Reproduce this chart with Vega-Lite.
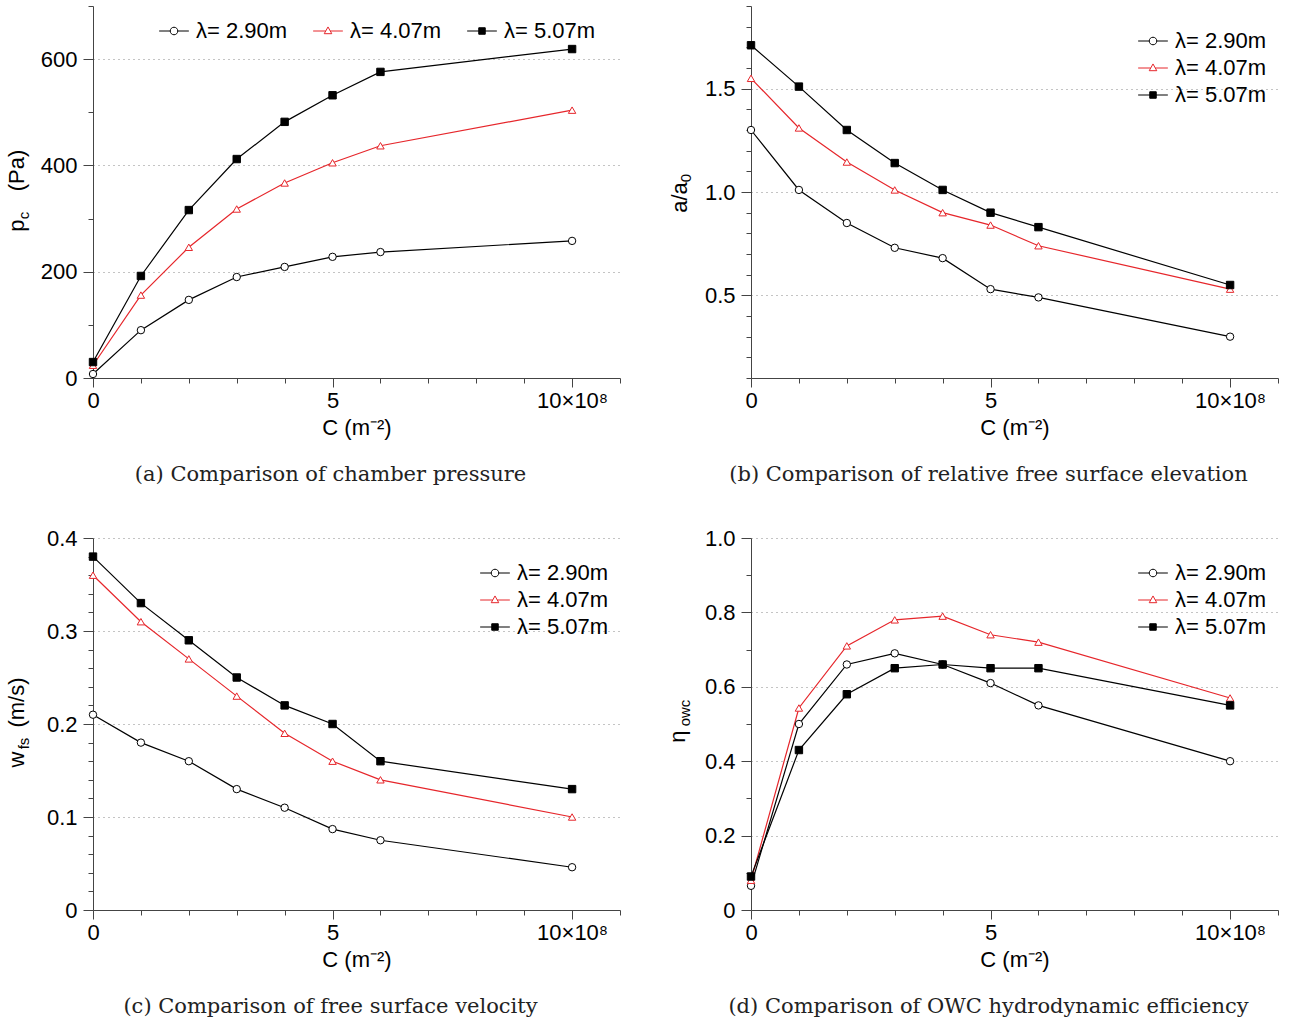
{
  "$schema": "https://vega.github.io/schema/vega-lite/v6.json",
  "background": "white",
  "padding": {"left": 5, "top": 5, "right": 10, "bottom": 5},
  "columns": 2,
  "spacing": {"row": 160, "column": 131},
  "bounds": "flush",
  "datasets": {
    "a": [
      {"x": 0, "y": 7.5, "s": "λ= 2.90m"}, {"x": 1, "y": 90, "s": "λ= 2.90m"}, {"x": 2, "y": 147, "s": "λ= 2.90m"}, {"x": 3, "y": 190, "s": "λ= 2.90m"},
      {"x": 4, "y": 209, "s": "λ= 2.90m"}, {"x": 5, "y": 228, "s": "λ= 2.90m"}, {"x": 6, "y": 237, "s": "λ= 2.90m"}, {"x": 10, "y": 258, "s": "λ= 2.90m"},
      {"x": 0, "y": 24, "s": "λ= 4.07m"}, {"x": 1, "y": 156, "s": "λ= 4.07m"}, {"x": 2, "y": 246, "s": "λ= 4.07m"}, {"x": 3, "y": 318, "s": "λ= 4.07m"},
      {"x": 4, "y": 367, "s": "λ= 4.07m"}, {"x": 5, "y": 405, "s": "λ= 4.07m"}, {"x": 6, "y": 437, "s": "λ= 4.07m"}, {"x": 10, "y": 504, "s": "λ= 4.07m"},
      {"x": 0, "y": 30, "s": "λ= 5.07m"}, {"x": 1, "y": 192, "s": "λ= 5.07m"}, {"x": 2, "y": 316, "s": "λ= 5.07m"}, {"x": 3, "y": 412, "s": "λ= 5.07m"},
      {"x": 4, "y": 482, "s": "λ= 5.07m"}, {"x": 5, "y": 532, "s": "λ= 5.07m"}, {"x": 6, "y": 576, "s": "λ= 5.07m"}, {"x": 10, "y": 619, "s": "λ= 5.07m"}
    ],
    "b": [
      {"x": 0, "y": 1.30, "s": "λ= 2.90m"}, {"x": 1, "y": 1.01, "s": "λ= 2.90m"}, {"x": 2, "y": 0.85, "s": "λ= 2.90m"}, {"x": 3, "y": 0.73, "s": "λ= 2.90m"},
      {"x": 4, "y": 0.68, "s": "λ= 2.90m"}, {"x": 5, "y": 0.53, "s": "λ= 2.90m"}, {"x": 6, "y": 0.49, "s": "λ= 2.90m"}, {"x": 10, "y": 0.30, "s": "λ= 2.90m"},
      {"x": 0, "y": 1.55, "s": "λ= 4.07m"}, {"x": 1, "y": 1.31, "s": "λ= 4.07m"}, {"x": 2, "y": 1.145, "s": "λ= 4.07m"}, {"x": 3, "y": 1.01, "s": "λ= 4.07m"},
      {"x": 4, "y": 0.90, "s": "λ= 4.07m"}, {"x": 5, "y": 0.84, "s": "λ= 4.07m"}, {"x": 6, "y": 0.74, "s": "λ= 4.07m"}, {"x": 10, "y": 0.53, "s": "λ= 4.07m"},
      {"x": 0, "y": 1.71, "s": "λ= 5.07m"}, {"x": 1, "y": 1.51, "s": "λ= 5.07m"}, {"x": 2, "y": 1.30, "s": "λ= 5.07m"}, {"x": 3, "y": 1.14, "s": "λ= 5.07m"},
      {"x": 4, "y": 1.01, "s": "λ= 5.07m"}, {"x": 5, "y": 0.90, "s": "λ= 5.07m"}, {"x": 6, "y": 0.83, "s": "λ= 5.07m"}, {"x": 10, "y": 0.55, "s": "λ= 5.07m"}
    ],
    "c": [
      {"x": 0, "y": 0.21, "s": "λ= 2.90m"}, {"x": 1, "y": 0.18, "s": "λ= 2.90m"}, {"x": 2, "y": 0.16, "s": "λ= 2.90m"}, {"x": 3, "y": 0.13, "s": "λ= 2.90m"},
      {"x": 4, "y": 0.11, "s": "λ= 2.90m"}, {"x": 5, "y": 0.087, "s": "λ= 2.90m"}, {"x": 6, "y": 0.075, "s": "λ= 2.90m"}, {"x": 10, "y": 0.046, "s": "λ= 2.90m"},
      {"x": 0, "y": 0.36, "s": "λ= 4.07m"}, {"x": 1, "y": 0.31, "s": "λ= 4.07m"}, {"x": 2, "y": 0.27, "s": "λ= 4.07m"}, {"x": 3, "y": 0.23, "s": "λ= 4.07m"},
      {"x": 4, "y": 0.19, "s": "λ= 4.07m"}, {"x": 5, "y": 0.16, "s": "λ= 4.07m"}, {"x": 6, "y": 0.14, "s": "λ= 4.07m"}, {"x": 10, "y": 0.10, "s": "λ= 4.07m"},
      {"x": 0, "y": 0.38, "s": "λ= 5.07m"}, {"x": 1, "y": 0.33, "s": "λ= 5.07m"}, {"x": 2, "y": 0.29, "s": "λ= 5.07m"}, {"x": 3, "y": 0.25, "s": "λ= 5.07m"},
      {"x": 4, "y": 0.22, "s": "λ= 5.07m"}, {"x": 5, "y": 0.20, "s": "λ= 5.07m"}, {"x": 6, "y": 0.16, "s": "λ= 5.07m"}, {"x": 10, "y": 0.13, "s": "λ= 5.07m"}
    ],
    "d": [
      {"x": 0, "y": 0.065, "s": "λ= 2.90m"}, {"x": 1, "y": 0.50, "s": "λ= 2.90m"}, {"x": 2, "y": 0.66, "s": "λ= 2.90m"}, {"x": 3, "y": 0.69, "s": "λ= 2.90m"},
      {"x": 4, "y": 0.66, "s": "λ= 2.90m"}, {"x": 5, "y": 0.61, "s": "λ= 2.90m"}, {"x": 6, "y": 0.55, "s": "λ= 2.90m"}, {"x": 10, "y": 0.40, "s": "λ= 2.90m"},
      {"x": 0, "y": 0.08, "s": "λ= 4.07m"}, {"x": 1, "y": 0.543, "s": "λ= 4.07m"}, {"x": 2, "y": 0.71, "s": "λ= 4.07m"}, {"x": 3, "y": 0.78, "s": "λ= 4.07m"},
      {"x": 4, "y": 0.79, "s": "λ= 4.07m"}, {"x": 5, "y": 0.74, "s": "λ= 4.07m"}, {"x": 6, "y": 0.72, "s": "λ= 4.07m"}, {"x": 10, "y": 0.57, "s": "λ= 4.07m"},
      {"x": 0, "y": 0.09, "s": "λ= 5.07m"}, {"x": 1, "y": 0.43, "s": "λ= 5.07m"}, {"x": 2, "y": 0.58, "s": "λ= 5.07m"}, {"x": 3, "y": 0.65, "s": "λ= 5.07m"},
      {"x": 4, "y": 0.66, "s": "λ= 5.07m"}, {"x": 5, "y": 0.65, "s": "λ= 5.07m"}, {"x": 6, "y": 0.65, "s": "λ= 5.07m"}, {"x": 10, "y": 0.55, "s": "λ= 5.07m"}
    ]
  },
  "concat": [
    {
      "width": 527, "height": 372,
      "data": {"name": "a"},
      "title": {"text": "(a) Comparison of chamber pressure", "orient": "bottom", "anchor": "middle", "dx": -26, "offset": 26},
      "layer": [
        {
          "mark": {"type": "line", "strokeWidth": 1.2},
          "encoding": {
            "x": {"field": "x", "type": "quantitative", "scale": {"domain": [0, 11], "nice": false},
                  "axis": {"orient": "bottom", "values": [0, 5, 10], "tickSize": 9, "labelPadding": 3, "grid": false, "labelExpr": "datum.value == 10 ? '10×10⁸' : datum.label", "title": "C  (m⁻²)", "titlePadding": 6}},
            "y": {"field": "y", "type": "quantitative", "scale": {"domain": [0, 700], "nice": false, "zero": false},
                  "axis": {"orient": "left", "values": [0, 200, 400, 600], "tickSize": 10, "labelPadding": 6, "grid": true, "title": "(Pa)", "titleX": -70, "titleY": 164, "titleAngle": 270, "titleAlign": "center", "titleBaseline": "alphabetic"}},
            "stroke": {"field": "s", "type": "nominal", "scale": {"domain": ["λ= 2.90m", "λ= 4.07m", "λ= 5.07m"], "range": ["black", "#e6262b", "black"]}, "legend": null}
          }
        },
        {
          "mark": {"type": "point", "filled": true, "size": 55, "strokeWidth": 1, "opacity": 1},
          "encoding": {
            "x": {"field": "x", "type": "quantitative", "axis": {"orient": "bottom", "values": [1, 2, 3, 4, 6, 7, 8, 9, 11], "tickSize": 5, "labels": false, "domain": false, "grid": false, "title": null}},
            "y": {"field": "y", "type": "quantitative", "axis": {"orient": "left", "values": [100, 300, 500, 700], "tickSize": 5, "labels": false, "domain": false, "grid": false, "title": "p", "titleX": -70, "titleY": 219, "titleAngle": 270, "titleAlign": "center", "titleBaseline": "alphabetic"}},
            "stroke": {"field": "s", "type": "nominal", "scale": {"domain": ["λ= 2.90m", "λ= 4.07m", "λ= 5.07m"], "range": ["black", "#e6262b", "black"]}, "legend": null},
            "fill": {"field": "s", "type": "nominal", "scale": {"domain": ["λ= 2.90m", "λ= 4.07m", "λ= 5.07m"], "range": ["white", "white", "black"]}, "legend": null},
            "shape": {"field": "s", "type": "nominal", "scale": {"domain": ["λ= 2.90m", "λ= 4.07m", "λ= 5.07m"], "range": ["circle", "triangle-up", "square"]}, "legend": null}
          }
        },
        {
          "transform": [{"filter": "false"}],
          "mark": {"type": "point", "filled": true, "strokeWidth": 1, "opacity": 1},
          "encoding": {
            "x": {"field": "x", "type": "quantitative", "axis": null},
            "y": {"field": "y", "type": "quantitative", "axis": {"orient": "left", "ticks": false, "labels": false, "domain": false, "grid": false, "title": "c", "titleFontSize": 15, "titleX": -65, "titleY": 209, "titleAngle": 270, "titleAlign": "center", "titleBaseline": "alphabetic"}},
            "stroke": {"field": "s", "type": "nominal", "scale": {"domain": ["λ= 2.90m", "λ= 4.07m", "λ= 5.07m"], "range": ["black", "#e6262b", "black"]},
                       "legend": {"title": null, "orient": "none", "legendX": 67, "legendY": 11, "direction": "horizontal", "columns": 3, "columnPadding": 23, "symbolSize": 729, "symbolStrokeWidth": 1, "labelOffset": 8}},
            "fill": {"field": "s", "type": "nominal", "scale": {"domain": ["λ= 2.90m", "λ= 4.07m", "λ= 5.07m"], "range": ["white", "white", "black"]},
                     "legend": {"title": null, "orient": "none", "legendX": 67, "legendY": 11, "direction": "horizontal", "columns": 3, "columnPadding": 23, "symbolSize": 729, "symbolStrokeWidth": 1, "labelOffset": 8}},
            "shape": {"field": "s", "type": "nominal", "scale": {"domain": ["λ= 2.90m", "λ= 4.07m", "λ= 5.07m"], "range": [
                        "M-1.1,0H-0.28M0.28,0H1.1M0.28,0A0.28,0.28,0,1,1,-0.28,0A0.28,0.28,0,1,1,0.28,0Z",
                        "M-1.1,0H-0.17M0.17,0H1.1M0,-0.3L0.28,0.2L-0.28,0.2Z",
                        "M-1.1,0H1.1M-0.24,-0.24H0.24V0.24H-0.24Z"]},
                      "legend": {"title": null, "orient": "none", "legendX": 67, "legendY": 11, "direction": "horizontal", "columns": 3, "columnPadding": 23, "symbolSize": 729, "symbolStrokeWidth": 1, "labelOffset": 8}}
          }
        }
      ],
      "resolve": {"scale": {"stroke": "independent", "fill": "independent", "shape": "independent"}, "axis": {"x": "independent", "y": "independent"}}
    },
    {
      "width": 527, "height": 372,
      "data": {"name": "b"},
      "title": {"text": "(b) Comparison of relative free surface elevation", "orient": "bottom", "anchor": "middle", "dx": -26, "offset": 26},
      "layer": [
        {
          "mark": {"type": "line", "strokeWidth": 1.2},
          "encoding": {
            "x": {"field": "x", "type": "quantitative", "scale": {"domain": [0, 11], "nice": false},
                  "axis": {"orient": "bottom", "values": [0, 5, 10], "tickSize": 9, "labelPadding": 3, "grid": false, "labelExpr": "datum.value == 10 ? '10×10⁸' : datum.label", "title": "C  (m⁻²)", "titlePadding": 6}},
            "y": {"field": "y", "type": "quantitative", "scale": {"domain": [0.1, 1.9], "nice": false, "zero": false},
                  "axis": {"orient": "left", "values": [0.5, 1.0, 1.5], "format": ".1f", "tickSize": 10, "labelPadding": 6, "grid": true, "title": "a/a", "titleX": -65, "titleY": 191, "titleAngle": 270, "titleAlign": "center", "titleBaseline": "alphabetic"}},
            "stroke": {"field": "s", "type": "nominal", "scale": {"domain": ["λ= 2.90m", "λ= 4.07m", "λ= 5.07m"], "range": ["black", "#e6262b", "black"]}, "legend": null}
          }
        },
        {
          "mark": {"type": "point", "filled": true, "size": 55, "strokeWidth": 1, "opacity": 1},
          "encoding": {
            "x": {"field": "x", "type": "quantitative", "axis": {"orient": "bottom", "values": [1, 2, 3, 4, 6, 7, 8, 9, 11], "tickSize": 5, "labels": false, "domain": false, "grid": false, "title": null}},
            "y": {"field": "y", "type": "quantitative", "axis": {"orient": "left", "values": [0.1, 0.2, 0.3, 0.4, 0.6, 0.7, 0.8, 0.9, 1.1, 1.2, 1.3, 1.4, 1.6, 1.7, 1.8, 1.9], "tickSize": 5, "labels": false, "domain": false, "grid": false, "title": null}},
            "stroke": {"field": "s", "type": "nominal", "scale": {"domain": ["λ= 2.90m", "λ= 4.07m", "λ= 5.07m"], "range": ["black", "#e6262b", "black"]}, "legend": null},
            "fill": {"field": "s", "type": "nominal", "scale": {"domain": ["λ= 2.90m", "λ= 4.07m", "λ= 5.07m"], "range": ["white", "white", "black"]}, "legend": null},
            "shape": {"field": "s", "type": "nominal", "scale": {"domain": ["λ= 2.90m", "λ= 4.07m", "λ= 5.07m"], "range": ["circle", "triangle-up", "square"]}, "legend": null}
          }
        },
        {
          "transform": [{"filter": "false"}],
          "mark": {"type": "point", "filled": true, "strokeWidth": 1, "opacity": 1},
          "encoding": {
            "x": {"field": "x", "type": "quantitative", "axis": null},
            "y": {"field": "y", "type": "quantitative", "axis": {"orient": "left", "ticks": false, "labels": false, "domain": false, "grid": false, "title": "0", "titleFontSize": 15, "titleX": -61, "titleY": 171.5, "titleAngle": 270, "titleAlign": "center", "titleBaseline": "alphabetic"}},
            "stroke": {"field": "s", "type": "nominal", "scale": {"domain": ["λ= 2.90m", "λ= 4.07m", "λ= 5.07m"], "range": ["black", "#e6262b", "black"]},
                       "legend": {"title": null, "orient": "none", "legendX": 388, "legendY": 21, "direction": "vertical", "symbolSize": 729, "symbolStrokeWidth": 1, "labelOffset": 8, "rowPadding": 2}},
            "fill": {"field": "s", "type": "nominal", "scale": {"domain": ["λ= 2.90m", "λ= 4.07m", "λ= 5.07m"], "range": ["white", "white", "black"]},
                     "legend": {"title": null, "orient": "none", "legendX": 388, "legendY": 21, "direction": "vertical", "symbolSize": 729, "symbolStrokeWidth": 1, "labelOffset": 8, "rowPadding": 2}},
            "shape": {"field": "s", "type": "nominal", "scale": {"domain": ["λ= 2.90m", "λ= 4.07m", "λ= 5.07m"], "range": [
                        "M-1.1,0H-0.28M0.28,0H1.1M0.28,0A0.28,0.28,0,1,1,-0.28,0A0.28,0.28,0,1,1,0.28,0Z",
                        "M-1.1,0H-0.17M0.17,0H1.1M0,-0.3L0.28,0.2L-0.28,0.2Z",
                        "M-1.1,0H1.1M-0.24,-0.24H0.24V0.24H-0.24Z"]},
                      "legend": {"title": null, "orient": "none", "legendX": 388, "legendY": 21, "direction": "vertical", "symbolSize": 729, "symbolStrokeWidth": 1, "labelOffset": 8, "rowPadding": 2}}
          }
        }
      ],
      "resolve": {"scale": {"stroke": "independent", "fill": "independent", "shape": "independent"}, "axis": {"x": "independent", "y": "independent"}}
    },
    {
      "width": 527, "height": 372,
      "data": {"name": "c"},
      "title": {"text": "(c) Comparison of free surface velocity", "orient": "bottom", "anchor": "middle", "dx": -26, "offset": 26},
      "layer": [
        {
          "mark": {"type": "line", "strokeWidth": 1.2},
          "encoding": {
            "x": {"field": "x", "type": "quantitative", "scale": {"domain": [0, 11], "nice": false},
                  "axis": {"orient": "bottom", "values": [0, 5, 10], "tickSize": 9, "labelPadding": 3, "grid": false, "labelExpr": "datum.value == 10 ? '10×10⁸' : datum.label", "title": "C  (m⁻²)", "titlePadding": 6}},
            "y": {"field": "y", "type": "quantitative", "scale": {"domain": [0, 0.4], "nice": false, "zero": false},
                  "axis": {"orient": "left", "values": [0, 0.1, 0.2, 0.3, 0.4], "labelExpr": "datum.value == 0 ? '0' : format(datum.value, '.1f')", "tickSize": 10, "labelPadding": 6, "grid": true, "title": "(m/s)", "titleX": -70, "titleY": 164, "titleAngle": 270, "titleAlign": "center", "titleBaseline": "alphabetic"}},
            "stroke": {"field": "s", "type": "nominal", "scale": {"domain": ["λ= 2.90m", "λ= 4.07m", "λ= 5.07m"], "range": ["black", "#e6262b", "black"]}, "legend": null}
          }
        },
        {
          "mark": {"type": "point", "filled": true, "size": 55, "strokeWidth": 1, "opacity": 1},
          "encoding": {
            "x": {"field": "x", "type": "quantitative", "axis": {"orient": "bottom", "values": [1, 2, 3, 4, 6, 7, 8, 9, 11], "tickSize": 5, "labels": false, "domain": false, "grid": false, "title": null}},
            "y": {"field": "y", "type": "quantitative", "axis": {"orient": "left", "values": [0.02, 0.04, 0.06, 0.08, 0.12, 0.14, 0.16, 0.18, 0.22, 0.24, 0.26, 0.28, 0.32, 0.34, 0.36, 0.38], "tickSize": 5, "labels": false, "domain": false, "grid": false, "title": "w", "titleX": -70, "titleY": 221, "titleAngle": 270, "titleAlign": "center", "titleBaseline": "alphabetic"}},
            "stroke": {"field": "s", "type": "nominal", "scale": {"domain": ["λ= 2.90m", "λ= 4.07m", "λ= 5.07m"], "range": ["black", "#e6262b", "black"]}, "legend": null},
            "fill": {"field": "s", "type": "nominal", "scale": {"domain": ["λ= 2.90m", "λ= 4.07m", "λ= 5.07m"], "range": ["white", "white", "black"]}, "legend": null},
            "shape": {"field": "s", "type": "nominal", "scale": {"domain": ["λ= 2.90m", "λ= 4.07m", "λ= 5.07m"], "range": ["circle", "triangle-up", "square"]}, "legend": null}
          }
        },
        {
          "transform": [{"filter": "false"}],
          "mark": {"type": "point", "filled": true, "strokeWidth": 1, "opacity": 1},
          "encoding": {
            "x": {"field": "x", "type": "quantitative", "axis": null},
            "y": {"field": "y", "type": "quantitative", "axis": {"orient": "left", "ticks": false, "labels": false, "domain": false, "grid": false, "title": "fs", "titleFontSize": 15, "titleX": -65, "titleY": 205, "titleAngle": 270, "titleAlign": "center", "titleBaseline": "alphabetic"}},
            "stroke": {"field": "s", "type": "nominal", "scale": {"domain": ["λ= 2.90m", "λ= 4.07m", "λ= 5.07m"], "range": ["black", "#e6262b", "black"]},
                       "legend": {"title": null, "orient": "none", "legendX": 388, "legendY": 21, "direction": "vertical", "symbolSize": 729, "symbolStrokeWidth": 1, "labelOffset": 8, "rowPadding": 2}},
            "fill": {"field": "s", "type": "nominal", "scale": {"domain": ["λ= 2.90m", "λ= 4.07m", "λ= 5.07m"], "range": ["white", "white", "black"]},
                     "legend": {"title": null, "orient": "none", "legendX": 388, "legendY": 21, "direction": "vertical", "symbolSize": 729, "symbolStrokeWidth": 1, "labelOffset": 8, "rowPadding": 2}},
            "shape": {"field": "s", "type": "nominal", "scale": {"domain": ["λ= 2.90m", "λ= 4.07m", "λ= 5.07m"], "range": [
                        "M-1.1,0H-0.28M0.28,0H1.1M0.28,0A0.28,0.28,0,1,1,-0.28,0A0.28,0.28,0,1,1,0.28,0Z",
                        "M-1.1,0H-0.17M0.17,0H1.1M0,-0.3L0.28,0.2L-0.28,0.2Z",
                        "M-1.1,0H1.1M-0.24,-0.24H0.24V0.24H-0.24Z"]},
                      "legend": {"title": null, "orient": "none", "legendX": 388, "legendY": 21, "direction": "vertical", "symbolSize": 729, "symbolStrokeWidth": 1, "labelOffset": 8, "rowPadding": 2}}
          }
        }
      ],
      "resolve": {"scale": {"stroke": "independent", "fill": "independent", "shape": "independent"}, "axis": {"x": "independent", "y": "independent"}}
    },
    {
      "width": 527, "height": 372,
      "data": {"name": "d"},
      "title": {"text": "(d) Comparison of OWC hydrodynamic efficiency", "orient": "bottom", "anchor": "middle", "dx": -26, "offset": 26},
      "layer": [
        {
          "mark": {"type": "line", "strokeWidth": 1.2},
          "encoding": {
            "x": {"field": "x", "type": "quantitative", "scale": {"domain": [0, 11], "nice": false},
                  "axis": {"orient": "bottom", "values": [0, 5, 10], "tickSize": 9, "labelPadding": 3, "grid": false, "labelExpr": "datum.value == 10 ? '10×10⁸' : datum.label", "title": "C  (m⁻²)", "titlePadding": 6}},
            "y": {"field": "y", "type": "quantitative", "scale": {"domain": [0, 1], "nice": false, "zero": false},
                  "axis": {"orient": "left", "values": [0, 0.2, 0.4, 0.6, 0.8, 1.0], "labelExpr": "datum.value == 0 ? '0' : format(datum.value, '.1f')", "tickSize": 10, "labelPadding": 6, "grid": true, "title": "η", "titleX": -67, "titleY": 198, "titleAngle": 270, "titleAlign": "center", "titleBaseline": "alphabetic"}},
            "stroke": {"field": "s", "type": "nominal", "scale": {"domain": ["λ= 2.90m", "λ= 4.07m", "λ= 5.07m"], "range": ["black", "#e6262b", "black"]}, "legend": null}
          }
        },
        {
          "mark": {"type": "point", "filled": true, "size": 55, "strokeWidth": 1, "opacity": 1},
          "encoding": {
            "x": {"field": "x", "type": "quantitative", "axis": {"orient": "bottom", "values": [1, 2, 3, 4, 6, 7, 8, 9, 11], "tickSize": 5, "labels": false, "domain": false, "grid": false, "title": null}},
            "y": {"field": "y", "type": "quantitative", "axis": {"orient": "left", "values": [0.1, 0.3, 0.5, 0.7, 0.9], "tickSize": 5, "labels": false, "domain": false, "grid": false, "title": null}},
            "stroke": {"field": "s", "type": "nominal", "scale": {"domain": ["λ= 2.90m", "λ= 4.07m", "λ= 5.07m"], "range": ["black", "#e6262b", "black"]}, "legend": null},
            "fill": {"field": "s", "type": "nominal", "scale": {"domain": ["λ= 2.90m", "λ= 4.07m", "λ= 5.07m"], "range": ["white", "white", "black"]}, "legend": null},
            "shape": {"field": "s", "type": "nominal", "scale": {"domain": ["λ= 2.90m", "λ= 4.07m", "λ= 5.07m"], "range": ["circle", "triangle-up", "square"]}, "legend": null}
          }
        },
        {
          "transform": [{"filter": "false"}],
          "mark": {"type": "point", "filled": true, "strokeWidth": 1, "opacity": 1},
          "encoding": {
            "x": {"field": "x", "type": "quantitative", "axis": null},
            "y": {"field": "y", "type": "quantitative", "axis": {"orient": "left", "ticks": false, "labels": false, "domain": false, "grid": false, "title": "owc", "titleFontSize": 15, "titleX": -62, "titleY": 174.5, "titleAngle": 270, "titleAlign": "center", "titleBaseline": "alphabetic"}},
            "stroke": {"field": "s", "type": "nominal", "scale": {"domain": ["λ= 2.90m", "λ= 4.07m", "λ= 5.07m"], "range": ["black", "#e6262b", "black"]},
                       "legend": {"title": null, "orient": "none", "legendX": 388, "legendY": 21, "direction": "vertical", "symbolSize": 729, "symbolStrokeWidth": 1, "labelOffset": 8, "rowPadding": 2}},
            "fill": {"field": "s", "type": "nominal", "scale": {"domain": ["λ= 2.90m", "λ= 4.07m", "λ= 5.07m"], "range": ["white", "white", "black"]},
                     "legend": {"title": null, "orient": "none", "legendX": 388, "legendY": 21, "direction": "vertical", "symbolSize": 729, "symbolStrokeWidth": 1, "labelOffset": 8, "rowPadding": 2}},
            "shape": {"field": "s", "type": "nominal", "scale": {"domain": ["λ= 2.90m", "λ= 4.07m", "λ= 5.07m"], "range": [
                        "M-1.1,0H-0.28M0.28,0H1.1M0.28,0A0.28,0.28,0,1,1,-0.28,0A0.28,0.28,0,1,1,0.28,0Z",
                        "M-1.1,0H-0.17M0.17,0H1.1M0,-0.3L0.28,0.2L-0.28,0.2Z",
                        "M-1.1,0H1.1M-0.24,-0.24H0.24V0.24H-0.24Z"]},
                      "legend": {"title": null, "orient": "none", "legendX": 388, "legendY": 21, "direction": "vertical", "symbolSize": 729, "symbolStrokeWidth": 1, "labelOffset": 8, "rowPadding": 2}}
          }
        }
      ],
      "resolve": {"scale": {"stroke": "independent", "fill": "independent", "shape": "independent"}, "axis": {"x": "independent", "y": "independent"}}
    }
  ],
  "config": {
    "view": {"stroke": null},
    "axis": {
      "labelFont": "Liberation Sans", "labelFontSize": 22, "labelColor": "black",
      "titleFont": "Liberation Sans", "titleFontSize": 22, "titleColor": "black", "titleFontWeight": "normal",
      "domainColor": "#444", "domainWidth": 1, "tickColor": "#444", "tickWidth": 1,
      "gridColor": "#888", "gridDash": [1, 4], "gridWidth": 1,
      "labelFlush": false, "labelOverlap": false
    },
    "legend": {"labelFont": "Liberation Sans", "labelFontSize": 22, "labelColor": "black"},
    "title": {"font": "DejaVu Serif", "fontSize": 21, "fontWeight": "normal", "color": "#222"}
  }
}
